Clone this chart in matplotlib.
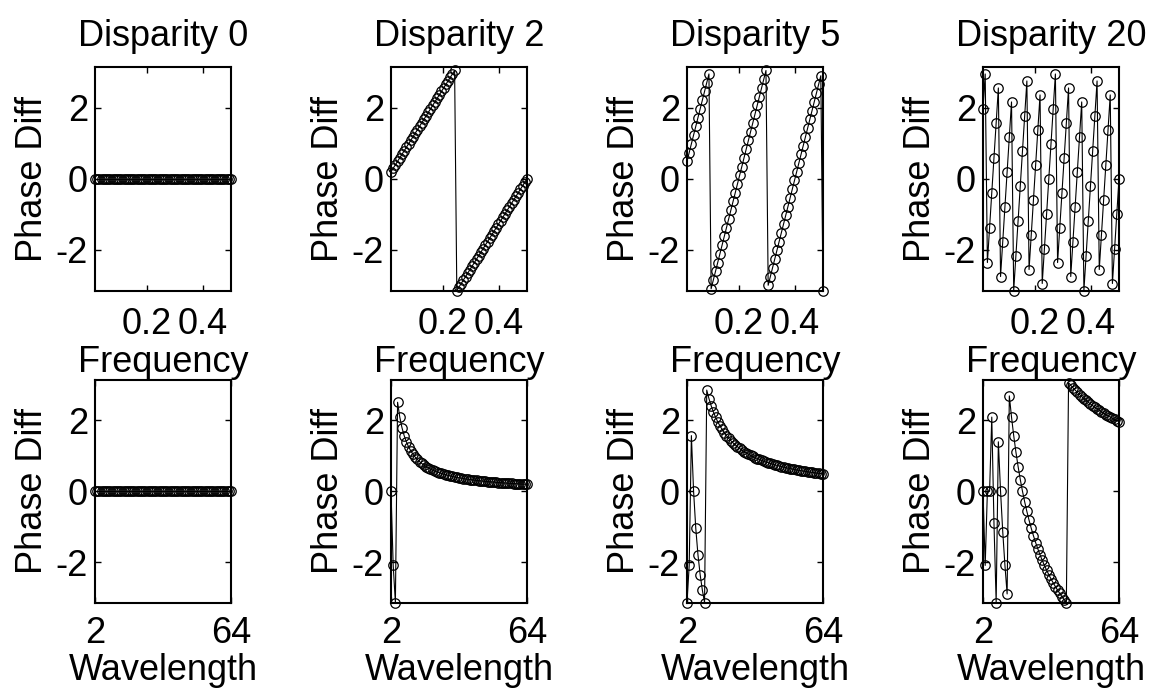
import numpy as np
import matplotlib
matplotlib.use("Agg")
import matplotlib.pyplot as plt

plt.rcParams['font.family'] = ['Liberation Sans', 'DejaVu Sans']

# ---- data ----
disparities = [0, 2, 5, 20]
titles = ["Disparity 0", "Disparity 2", "Disparity 5", "Disparity 20"]
# frequency samples: k/128 for k = 2..64
freq_index = [2, 3, 4, 5, 6, 7, 8, 9, 10, 11, 12, 13, 14, 15, 16, 17, 18, 19, 20,
              21, 22, 23, 24, 25, 26, 27, 28, 29, 30, 31, 32, 33, 34, 35, 36, 37,
              38, 39, 40, 41, 42, 43, 44, 45, 46, 47, 48, 49, 50, 51, 52, 53, 54,
              55, 56, 57, 58, 59, 60, 61, 62, 63, 64]
freq_denominator = 128
# wavelength samples (integers 2..64)
wavelengths = [2, 3, 4, 5, 6, 7, 8, 9, 10, 11, 12, 13, 14, 15, 16, 17, 18, 19, 20,
               21, 22, 23, 24, 25, 26, 27, 28, 29, 30, 31, 32, 33, 34, 35, 36, 37,
               38, 39, 40, 41, 42, 43, 44, 45, 46, 47, 48, 49, 50, 51, 52, 53, 54,
               55, 56, 57, 58, 59, 60, 61, 62, 63, 64]
freq_ticks = [0.2, 0.4]
freq_ticklabels = ["0.2", "0.4"]
wl_ticks = [2, 64]
wl_ticklabels = ["2", "64"]
y_ticks = [-2, 0, 2]
y_ticklabels = ["-2", "0", "2"]

frequencies = np.array(freq_index, dtype=float) / freq_denominator
wl = np.array(wavelengths, dtype=float)


def wrapped_phase(cycles):
    # phase difference wrapped into [-pi, pi)
    c = np.mod(cycles + 0.5, 1.0) - 0.5
    return 2 * np.pi * c


W, H = 1150, 689
fig = plt.figure(figsize=(W / 100, H / 100), dpi=100)

lefts = [95, 391, 687, 983]
ax_w = 136
rows = [(67, 290.5), (380, 602.5)]
FS = 26

for col, d in enumerate(disparities):
    for row in range(2):
        top, bot = rows[row]
        ax = fig.add_axes([lefts[col] / W, 1 - bot / H, ax_w / W, (bot - top) / H])
        if row == 0:
            x = frequencies
            y = wrapped_phase(d * frequencies)
        else:
            x = wl
            y = wrapped_phase(d / wl)
        ax.plot(x, y, '-o', color='black', lw=0.8, markersize=6.8,
                markerfacecolor='none', markeredgecolor='black', markeredgewidth=0.9,
                clip_on=False)
        ax.set_ylim(-np.pi, np.pi)
        ax.set_yticks(y_ticks)
        ax.set_yticklabels(y_ticklabels)
        if row == 0:
            ax.set_xlim(frequencies[0], frequencies[-1])
            ax.set_xticks(freq_ticks)
            ax.set_xticklabels(freq_ticklabels)
            ax.set_xlabel("Frequency", fontsize=FS, labelpad=2)
            ax.set_title(titles[col], fontsize=FS, pad=15)
            ax.tick_params(axis='x', pad=12)
        else:
            ax.set_xlim(wl[0], wl[-1])
            ax.set_xticks(wl_ticks)
            ax.set_xticklabels(wl_ticklabels)
            ax.set_xlabel("Wavelength", fontsize=FS, labelpad=1.5)
            ax.tick_params(axis='x', pad=10)
        ax.set_ylabel("Phase Diff", fontsize=FS, labelpad=4)
        ax.tick_params(direction='in', length=4, width=1, top=True, right=True,
                       labelsize=FS)
        ax.tick_params(axis='y', pad=5)
        for s in ax.spines.values():
            s.set_linewidth(1.5)

fig.savefig("out.png", dpi=100)
